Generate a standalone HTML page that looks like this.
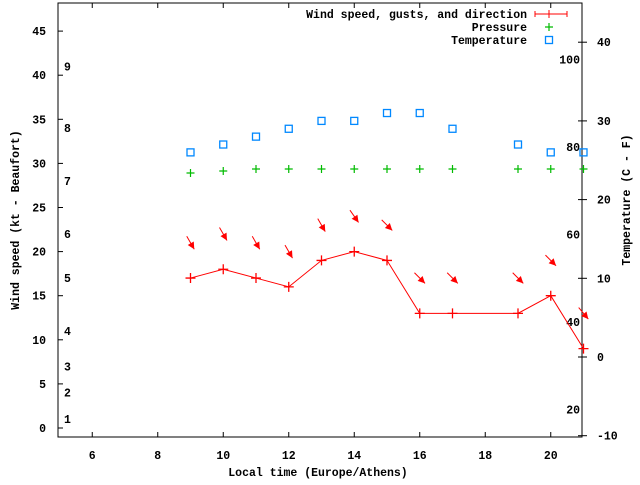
<!DOCTYPE html>
<html><head><meta charset="utf-8"><style>
body{margin:0;background:#fff}
svg text{font-family:"Liberation Mono","DejaVu Sans Mono",monospace;font-size:11.5px;font-weight:bold;fill:#000}
</style></head><body>
<svg id="chart" width="640" height="480" xmlns="http://www.w3.org/2000/svg"></svg>
<script>
const hours=[9,10,11,12,13,14,15,16,17,19,20,21];
const windKt=[17,18,17,16,19,20,19,13,13,13,15,9];
const arrowKt=[21,22,21,20,23,24,23,17,17,17,19,13];
const windDir=[330,330,330,330,330,325,315,315,315,315,315,320];
const pressure=[1013.0,1013.3,1013.6,1013.6,1013.6,1013.6,1013.6,1013.6,1013.6,1013.6,1013.6,1013.6];
const tempC=[26,27,28,29,30,30,31,31,29,27,26,26];
const xTicks=[6,8,10,12,14,16,18,20];
const yTicks=[0,5,10,15,20,25,30,35,40,45];
const tTicks=[-10,0,10,20,30,40];
const beaufort=[1,4,7,11,17,22,28,34,41];
const fTicks=[20,40,60,80,100];

const svg=document.getElementById('chart');
const NS='http://www.w3.org/2000/svg';
const L=58,R=582,T=3,B=437;
const X=h=>59.5+(h-5)*32.75;
const Y=k=>428-k*8.82;
const YT=c=>357-c*7.87;
const YP=p=>173-(p-1013)*(4/0.6);
function mk(tag,a,parent){const e=document.createElementNS(NS,tag);for(const k in a)e.setAttribute(k,a[k]);(parent||svg).appendChild(e);return e;}
function txt(x,y,s,anchor,extra){const e=mk('text',Object.assign({x:x,y:y,'text-anchor':anchor||'start'},extra||{}));e.textContent=s;return e;}

const frame=mk('rect',{x:L,y:T,width:R-L,height:B-T,fill:'none',stroke:'#000','stroke-width':1});



xTicks.forEach(h=>{
  const x=X(h);
  mk('line',{x1:x,y1:B,x2:x,y2:B-5,stroke:'#000'});
  mk('line',{x1:x,y1:T,x2:x,y2:T+5,stroke:'#000'});
  const t=txt(x,459,String(h),'middle');
  
  
});
yTicks.forEach(k=>{
  const y=Y(k);
  mk('line',{x1:L,y1:y,x2:L+5,y2:y,stroke:'#000'});
  const t=txt(46,y+4,String(k),'end');
  
  
});
tTicks.forEach(c=>{
  const y=YT(c);
  mk('line',{x1:R-4,y1:y,x2:R+5,y2:y,stroke:'#000'});
  const t=txt(597,y+4,String(c),'start');
  
  
});
beaufort.forEach((k,i)=>{
  const t=txt(64,Y(k)+4,String(i+1),'start');
  
  
});
fTicks.forEach(f=>{
  const t=txt(580,YT((f-32)*5/9)+4,String(f),'end');
  
  
});

let t=txt(318,476,'Local time (Europe/Athens)','middle');


t=txt(0,0,'Wind speed (kt - Beaufort)','middle',{transform:'translate(19,220) rotate(-90)'});


t=txt(0,0,'Temperature (C - F)','middle',{transform:'translate(630,200) rotate(-90)'});



const line=mk('polyline',{points:hours.map((h,i)=>X(h)+','+Y(windKt[i])).join(' '),fill:'none',stroke:'#f00','stroke-width':1});


hours.forEach((h,i)=>{
  const x=X(h),y=Y(windKt[i]);
  const g=mk('path',{d:`M${x-5},${y}H${x+5}M${x},${y-5}V${y+5}`,stroke:'#f00','stroke-width':1.3});
  
  
  const cx=X(h),cy=Y(arrowKt[i]);
  const a=(windDir[i]+180)*Math.PI/180;
  const dx=Math.sin(a),dy=-Math.cos(a),len=15;
  const x1=cx-dx*len/2,y1=cy-dy*len/2,x2=cx+dx*len/2,y2=cy+dy*len/2;
  const ar=mk('g',{});
  
  
  mk('line',{x1:x1,y1:y1,x2:x2,y2:y2,stroke:'#f00','stroke-width':1},ar);
  const px=-dy,py=dx;
  mk('polygon',{points:`${x2},${y2} ${x2-dx*7+px*3.5},${y2-dy*7+py*3.5} ${x2-dx*7-px*3.5},${y2-dy*7-py*3.5}`,fill:'#f00'},ar);
});
hours.forEach((h,i)=>{
  const x=X(h),y=YP(pressure[i]);
  const g=mk('path',{d:`M${x-4},${y}H${x+4}M${x},${y-4}V${y+4}`,stroke:'#0b0','stroke-width':1.2});
  
  
});
hours.forEach((h,i)=>{
  const x=X(h),y=YT(tempC[i]);
  const r=mk('rect',{x:x-3.5,y:y-3.5,width:7,height:7,fill:'none',stroke:'#08f','stroke-width':1.3});
  
  
});

const lg=mk('g',{});


[['Wind speed, gusts, and direction',14],['Pressure',27],['Temperature',40]].forEach(([s,y])=>{
  const e=txt(527,y+4,s,'end');lg.appendChild(e);
  
  
});
mk('path',{d:'M535,14H567M535,11V17M567,11V17M549,10V18',stroke:'#f00','stroke-width':1},lg);
mk('path',{d:'M545,27H553M549,23V31',stroke:'#0b0','stroke-width':1.2},lg);
mk('rect',{x:545.5,y:36.5,width:7,height:7,fill:'none',stroke:'#08f','stroke-width':1.3},lg);
</script>
</body></html>
